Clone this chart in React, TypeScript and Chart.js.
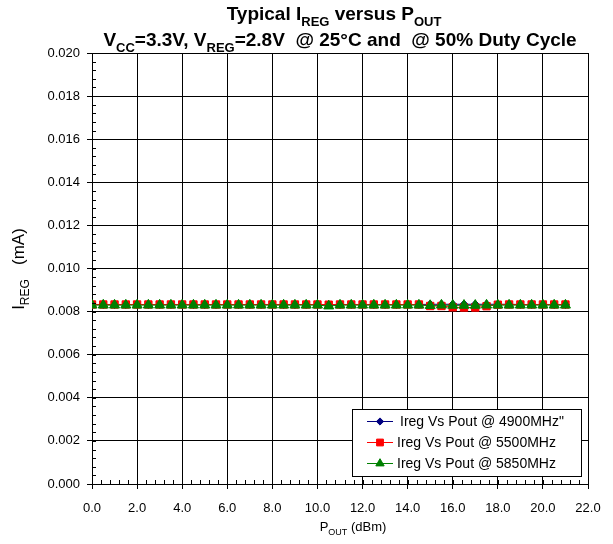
import React, { useEffect, useRef } from 'react';
import { Chart, registerables } from 'chart.js';
import { drawPoint } from 'chart.js/helpers';

Chart.register(...registerables);

// ---- Data ----
const poutDbm = [
  0, 0.5, 1, 1.5, 2, 2.5, 3, 3.5, 4, 4.5, 5, 5.5, 6, 6.5, 7, 7.5, 8, 8.5, 9, 9.5,
  10, 10.5, 11, 11.5, 12, 12.5, 13, 13.5, 14, 14.5, 15, 15.5, 16, 16.5, 17, 17.5,
  18, 18.5, 19, 19.5, 20, 20.5, 21,
];
const ireg4900 = [
  0.00833, 0.00833, 0.00833, 0.00833, 0.00833, 0.00833, 0.00833, 0.00833, 0.00833, 0.00833,
  0.00833, 0.00833, 0.00833, 0.00833, 0.00833, 0.00833, 0.00833, 0.00833, 0.00833, 0.00833,
  0.00833, 0.00832, 0.00833, 0.00833, 0.00833, 0.00833, 0.00833, 0.00833, 0.00833, 0.00833,
  0.00834, 0.00834, 0.00834, 0.00834, 0.00834, 0.00834, 0.00834, 0.00834, 0.00833, 0.00833,
  0.00833, 0.00833, 0.00833,
];
const ireg5500 = [
  0.00833, 0.00833, 0.00833, 0.00833, 0.00833, 0.00833, 0.00833, 0.00833, 0.00833, 0.00833,
  0.00833, 0.00833, 0.00833, 0.00833, 0.00833, 0.00833, 0.00833, 0.00833, 0.00833, 0.00833,
  0.00833, 0.00832, 0.00833, 0.00833, 0.00833, 0.00833, 0.00833, 0.00833, 0.00833, 0.00833,
  0.00826, 0.00826, 0.0082, 0.00819, 0.00819, 0.00825, 0.00832, 0.00833, 0.00833, 0.00833,
  0.00833, 0.00833, 0.00833,
];
const ireg5850 = [
  0.0083, 0.0083, 0.0083, 0.0083, 0.0083, 0.0083, 0.0083, 0.0083, 0.0083, 0.0083,
  0.0083, 0.0083, 0.0083, 0.0083, 0.0083, 0.0083, 0.0083, 0.0083, 0.0083, 0.0083,
  0.0083, 0.00826, 0.0083, 0.0083, 0.0083, 0.0083, 0.0083, 0.0083, 0.0083, 0.0083,
  0.00828, 0.0083, 0.00829, 0.00829, 0.00829, 0.0083, 0.0083, 0.0083, 0.0083, 0.0083,
  0.0083, 0.0083, 0.0083,
];
const seriesLabels = [
  'Ireg Vs Pout @ 4900MHz"',
  'Ireg Vs Pout @ 5500MHz',
  'Ireg Vs Pout @ 5850MHz',
];
const seriesColors = ['#000080', '#FF0000', '#008000'];
const titleLine1 = [
  { t: 'Typical I' }, { t: 'REG', sub: true }, { t: ' versus P' }, { t: 'OUT', sub: true },
];
const titleLine2 = [
  { t: 'V' }, { t: 'CC', sub: true }, { t: '=3.3V, V' }, { t: 'REG', sub: true },
  { t: '=2.8V  @ 25°C and  @ 50% Duty Cycle' },
];
const yTitle = [{ t: 'I' }, { t: 'REG', sub: true }, { t: '   (mA)' }];
const xTitle = [{ t: 'P' }, { t: 'OUT', sub: true }, { t: ' (dBm)' }];

const FONT = '"Liberation Sans", Arial, Helvetica, sans-serif';

type Part = { t: string; sub?: boolean };

function drawRich(
  ctx: CanvasRenderingContext2D, parts: Part[], x: number, y: number,
  size: number, weight: string, align: 'center' | 'left',
) {
  const subSize = Math.round(size * 0.68);
  const f = (s: number) => `${weight} ${s}px ${FONT}`;
  let total = 0;
  for (const p of parts) {
    ctx.font = f(p.sub ? subSize : size);
    total += ctx.measureText(p.t).width;
  }
  let cx = align === 'center' ? x - total / 2 : x;
  ctx.textAlign = 'left';
  ctx.textBaseline = 'alphabetic';
  for (const p of parts) {
    ctx.font = f(p.sub ? subSize : size);
    ctx.fillText(p.t, cx, y + (p.sub ? size * 0.3 : 0));
    cx += ctx.measureText(p.t).width;
  }
}

const pointStyles = ['rectRot', 'rect', 'triangle'];
const pointRadii = [4, 5.2, 5.8];
const legendRadii = [3.6, 4.8, 4.8];

const decorPlugin = {
  id: 'decor',
  afterDraw(chart: any) {
    const { ctx, chartArea, scales } = chart;
    const xs = scales.x;
    const ys = scales.y;
    ctx.save();
    ctx.strokeStyle = '#000';
    ctx.lineWidth = 1;
    ctx.beginPath();
    for (let i = 0; i <= 50; i++) {
      const py = Math.round(ys.getPixelForValue(i * 0.0004)) + 0.5;
      ctx.moveTo(chartArea.left, py);
      ctx.lineTo(chartArea.left + 4, py);
    }
    for (let i = 0; i <= 55; i++) {
      const px = Math.round(xs.getPixelForValue(i * 0.4)) + 0.5;
      ctx.moveTo(px, chartArea.bottom);
      ctx.lineTo(px, chartArea.bottom - 4);
    }
    ctx.stroke();

    // titles
    ctx.fillStyle = '#000';
    const cx = (chartArea.left + chartArea.right) / 2;
    drawRich(ctx, titleLine1, cx - 6, 20, 19, 'bold', 'center');
    drawRich(ctx, titleLine2, cx, 46, 19, 'bold', 'center');
    drawRich(ctx, xTitle, 353, 531, 13, 'normal', 'center');
    ctx.save();
    ctx.translate(24, 269);
    ctx.rotate(-Math.PI / 2);
    drawRich(ctx, yTitle, 0, 0, 17, 'normal', 'center');
    ctx.restore();

    // legend
    const lx = 352, ly = 409, lw = 229, lh = 67;
    ctx.fillStyle = '#fff';
    ctx.fillRect(lx, ly, lw, lh);
    ctx.strokeStyle = '#000';
    ctx.lineWidth = 1;
    ctx.strokeRect(lx + 0.5, ly + 0.5, lw, lh);
    const rows = [421, 442, 463];
    seriesLabels.forEach((label, i) => {
      const ry = rows[i];
      const color = seriesColors[i];
      ctx.strokeStyle = color;
      ctx.lineWidth = 1;
      ctx.beginPath();
      ctx.moveTo(367, ry + 0.5);
      ctx.lineTo(393, ry + 0.5);
      ctx.stroke();
      ctx.fillStyle = color;
      ctx.strokeStyle = color;
      drawPoint(ctx, { pointStyle: pointStyles[i], radius: legendRadii[i], borderWidth: 1, rotation: 0 } as any, 380, ry + 0.5);
      ctx.fillStyle = '#000';
      ctx.font = `14px ${FONT}`;
      ctx.textAlign = 'left';
      ctx.textBaseline = 'middle';
      ctx.fillText(label, i === 0 ? 400 : 397, ry + 1);
    });
    ctx.restore();
  },
};

export default function App() {
  const ref = useRef<HTMLCanvasElement>(null);
  useEffect(() => {
    document.body.style.margin = '0';
    const mk = (vals: number[]) => poutDbm.map((x, i) => ({ x, y: vals[i] }));
    const all = [ireg4900, ireg5500, ireg5850];
    // Chart.js draws the first dataset on top, so list them green, red, blue
    const drawIdx = [2, 1, 0];
    const chart = new Chart(ref.current!, {
      type: 'scatter',
      data: {
        datasets: drawIdx.map((i) => ({
          label: seriesLabels[i],
          data: mk(all[i]),
          showLine: true,
          borderColor: seriesColors[i],
          backgroundColor: seriesColors[i],
          pointBackgroundColor: seriesColors[i],
          pointBorderColor: seriesColors[i],
          borderWidth: 1,
          pointBorderWidth: 1,
          pointStyle: pointStyles[i],
          pointRadius: pointRadii[i],
        })),
      },
      options: {
        responsive: false,
        animation: false,
        events: [],
        layout: { padding: { left: 0, top: 53, right: 25, bottom: 0 } },
        plugins: {
          legend: { display: false },
          title: { display: false },
          tooltip: { enabled: false },
        },
        scales: {
          x: {
            type: 'linear',
            min: 0,
            max: 22,
            afterFit: (s: any) => { s.height = 60; },
            ticks: {
              stepSize: 2,
              color: '#000',
              padding: 12,
              maxRotation: 0,
              font: { family: FONT, size: 13 },
              callback: (v: any) => Number(v).toFixed(1),
            },
            grid: { color: '#000', lineWidth: 1, tickLength: 5, drawTicks: true },
            border: { color: '#000', width: 1 },
          },
          y: {
            type: 'linear',
            min: 0,
            max: 0.02,
            afterFit: (s: any) => { s.width = 92; },
            ticks: {
              stepSize: 0.002,
              color: '#000',
              padding: 7,
              font: { family: FONT, size: 13 },
              callback: (v: any) => Number(v).toFixed(3),
            },
            grid: { color: '#000', lineWidth: 1, tickLength: 5, drawTicks: true },
            border: { color: '#000', width: 1 },
          },
        },
      },
      plugins: [decorPlugin],
    });
    return () => chart.destroy();
  }, []);
  return (
    <div style={{ position: 'absolute', left: 0, top: 0, width: 613, height: 544, background: '#fff' }}>
      <canvas ref={ref} width={613} height={544} style={{ width: 613, height: 544 }} />
    </div>
  );
}
